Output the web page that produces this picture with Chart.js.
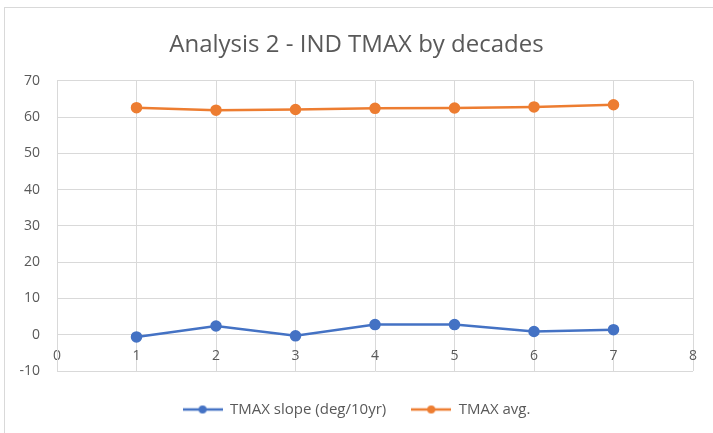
<!DOCTYPE html>
<html lang="en">
<head>
  <meta charset="UTF-8"/>
  <title>Analysis 2 - IND TMAX by decades</title>
  <script src="https://cdn.jsdelivr.net/npm/chart.js"></script>
  <style>
    html, body { margin:0; padding:0; background:#fff; }
    .wrap { position:relative; width:713px; height:433px; overflow:hidden; }
    .frame { position:absolute; left:4px; top:7px; width:760px; height:480px; border:1px solid #d9d9d9; }
    canvas { position:absolute; left:0; top:0; }
  </style>
</head>
<body>
<div class="wrap">
  <div class="frame"></div>
  <canvas id="chart" width="713" height="433"></canvas>
</div>
<script>
  // data
  const decades = [1, 2, 3, 4, 5, 6, 7];
  const slope = [-0.6, 2.4, -0.3, 2.8, 2.8, 0.9, 1.4];
  const avg = [62.6, 61.9, 62.1, 62.4, 62.5, 62.8, 63.4];
  const yTicks = [-10, 0, 10, 20, 30, 40, 50, 60, 70];
  const xTicks = [0, 1, 2, 3, 4, 5, 6, 7, 8];

  const blue = '#4472C4', orange = '#ED7D31', grid = '#d9d9d9', txt = '#595959';
  const font = "'Open Sans', sans-serif";

  // legend icon: short line with a dot in the middle
  function icon(col){
    const c = document.createElement('canvas');
    c.width = 40; c.height = 10;
    const g = c.getContext('2d');
    g.strokeStyle = col; g.lineWidth = 2.5;
    g.beginPath(); g.moveTo(0,5); g.lineTo(40,5); g.stroke();
    g.fillStyle = col;
    g.beginPath(); g.arc(20,5,4,0,Math.PI*2); g.fill();
    return c;
  }

  const pts = arr => decades.map((d,i) => ({x:d, y:arr[i]}));

  new Chart(document.getElementById('chart'), {
    type:'line',
    data:{
      datasets:[
        { label:'TMAX slope (deg/10yr)', data:pts(slope), borderColor:blue, backgroundColor:blue,
          borderWidth:2.5, pointRadius:4.5, pointHoverRadius:4.5, tension:0 },
        { label:'TMAX avg.', data:pts(avg), borderColor:orange, backgroundColor:orange,
          borderWidth:2.5, pointRadius:4.5, pointHoverRadius:4.5, tension:0 }
      ]
    },
    options:{
      responsive:false,
      animation:false,
      layout:{ padding:{ left:20, right:20, top:18, bottom:6 } },
      plugins:{
        title:{ display:true, text:'Analysis 2 - IND TMAX by decades', color:txt,
          font:{ family:font, size:24, weight:'normal' }, padding:{ top:13, bottom:21 } },
        legend:{ position:'bottom',
          // empty legend title only adds a little space above the items
          title:{ display:true, text:' ', font:{ size:5 }, padding:0 },
          labels:{ color:txt, font:{ family:font, size:15 }, usePointStyle:true, pointStyleWidth:40,
            padding:25,
            generateLabels: ch => ch.data.datasets.map((ds,i) => ({
              text:ds.label, pointStyle:icon(ds.borderColor), fontColor:txt,
              strokeStyle:ds.borderColor, fillStyle:ds.borderColor, lineWidth:0, datasetIndex:i, hidden:false
            })) } },
        tooltip:{ enabled:false }
      },
      scales:{
        x:{ type:'linear', min:0, max:8, position:{ y:0 },
          afterBuildTicks: s => { s.ticks = xTicks.map(v => ({value:v})); },
          grid:{ color:grid, drawTicks:false }, border:{ color:grid },
          ticks:{ color:txt, font:{ family:font, size:14 }, padding:13 } },
        y:{ min:-10, max:70,
          afterBuildTicks: s => { s.ticks = yTicks.map(v => ({value:v})); },
          afterFit: s => { s.width = 37; },
          grid:{ color:grid, drawTicks:false }, border:{ color:grid },
          ticks:{ color:txt, font:{ family:font, size:14 }, padding:17 } }
      }
    }
  });
</script>
</body>
</html>
